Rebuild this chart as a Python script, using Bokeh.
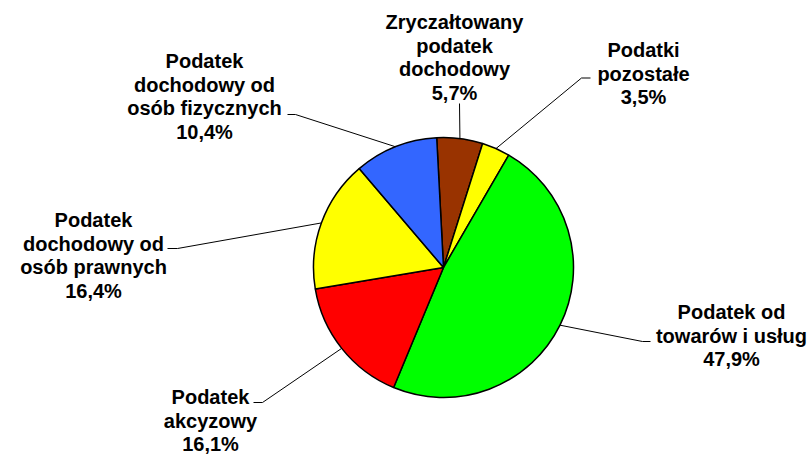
import math
from bokeh.plotting import figure
from bokeh.models import Range1d, ColumnDataSource
from bokeh.core.properties import value
from bokeh.embed import file_html
from bokeh.resources import INLINE

# ---- data (clockwise order, starting just left of 12 o'clock) ----
categories = [
    "Zryczałtowany\npodatek\ndochodowy",
    "Podatki\npozostałe",
    "Podatek od\ntowarów i usług",
    "Podatek\nakcyzowy",
    "Podatek\ndochodowy od\nosób prawnych",
    "Podatek\ndochodowy od\nosób fizycznych",
]
shares = [5.7, 3.5, 47.9, 16.1, 16.4, 10.4]
colors = ["#993300", "#FFFF00", "#00FF00", "#FF0000", "#FFFF00", "#3366FF"]

# ---- layout (screen-pixel coordinates of the picture) ----
W, H = 812, 454
def X(px):
    return px
def Y(py):
    return H - py

CX, CY, R = 443, 267, 130
START_DEG = -3.0  # clockwise from 12 o'clock

# elbow point of leader line, end of short horizontal tick, label centre
elbows = [(459, 103), (581, 77.5), (642, 341), (262, 402), (177, 248), (295, 114)]
ticks = [(459, 103), (590, 77.5), (650, 341), (253, 402), (167, 248), (287, 114)]
label_centres = [(454, 57), (643, 73), (731, 335), (210, 420), (93, 255), (204, 96)]
LINE_SP = 23.5

p = figure(width=W, height=H, output_backend="svg", toolbar_location=None,
           x_range=Range1d(0, W), y_range=Range1d(0, H), min_border=0)
p.axis.visible = False
p.grid.visible = False
p.outline_line_color = None
p.background_fill_color = "white"
p.border_fill_color = "white"

total = sum(shares)
starts, ends, mids = [], [], []
cum = START_DEG
for s in shares:
    a0 = cum
    a1 = cum + s / total * 360.0
    starts.append(math.radians(90 - a0))
    ends.append(math.radians(90 - a1))
    mids.append((a0 + a1) / 2)
    cum = a1

src = ColumnDataSource(dict(start=starts, end=ends, color=colors))
p.wedge(x=X(CX), y=Y(CY), radius=R, start_angle="start", end_angle="end",
        direction="clock", fill_color="color", line_color="black",
        line_width=1.5, source=src)

# leader lines
xs, ys = [], []
for m, e, t in zip(mids, elbows, ticks):
    ex = CX + R * math.sin(math.radians(m))
    ey = CY - R * math.cos(math.radians(m))
    xs.append([X(ex), X(e[0]), X(t[0])])
    ys.append([Y(ey), Y(e[1]), Y(t[1])])
p.multi_line(xs=xs, ys=ys, line_color="black", line_width=1)

# labels
tx, ty, tt = [], [], []
for cat, s, (lx, ly) in zip(categories, shares, label_centres):
    lines = cat.split("\n") + [f"{s:.1f}".replace(".", ",") + "%"]
    n = len(lines)
    for i, ln in enumerate(lines):
        tx.append(X(lx))
        ty.append(Y(ly + (i - (n - 1) / 2) * LINE_SP))
        tt.append(ln)
p.text(x=tx, y=ty, text=tt, text_align="center", text_baseline="middle",
       text_font=value("Liberation Sans"), text_font_style="bold",
       text_font_size="20px", text_color="black")

open("out.html", "w").write(file_html(p, INLINE))
